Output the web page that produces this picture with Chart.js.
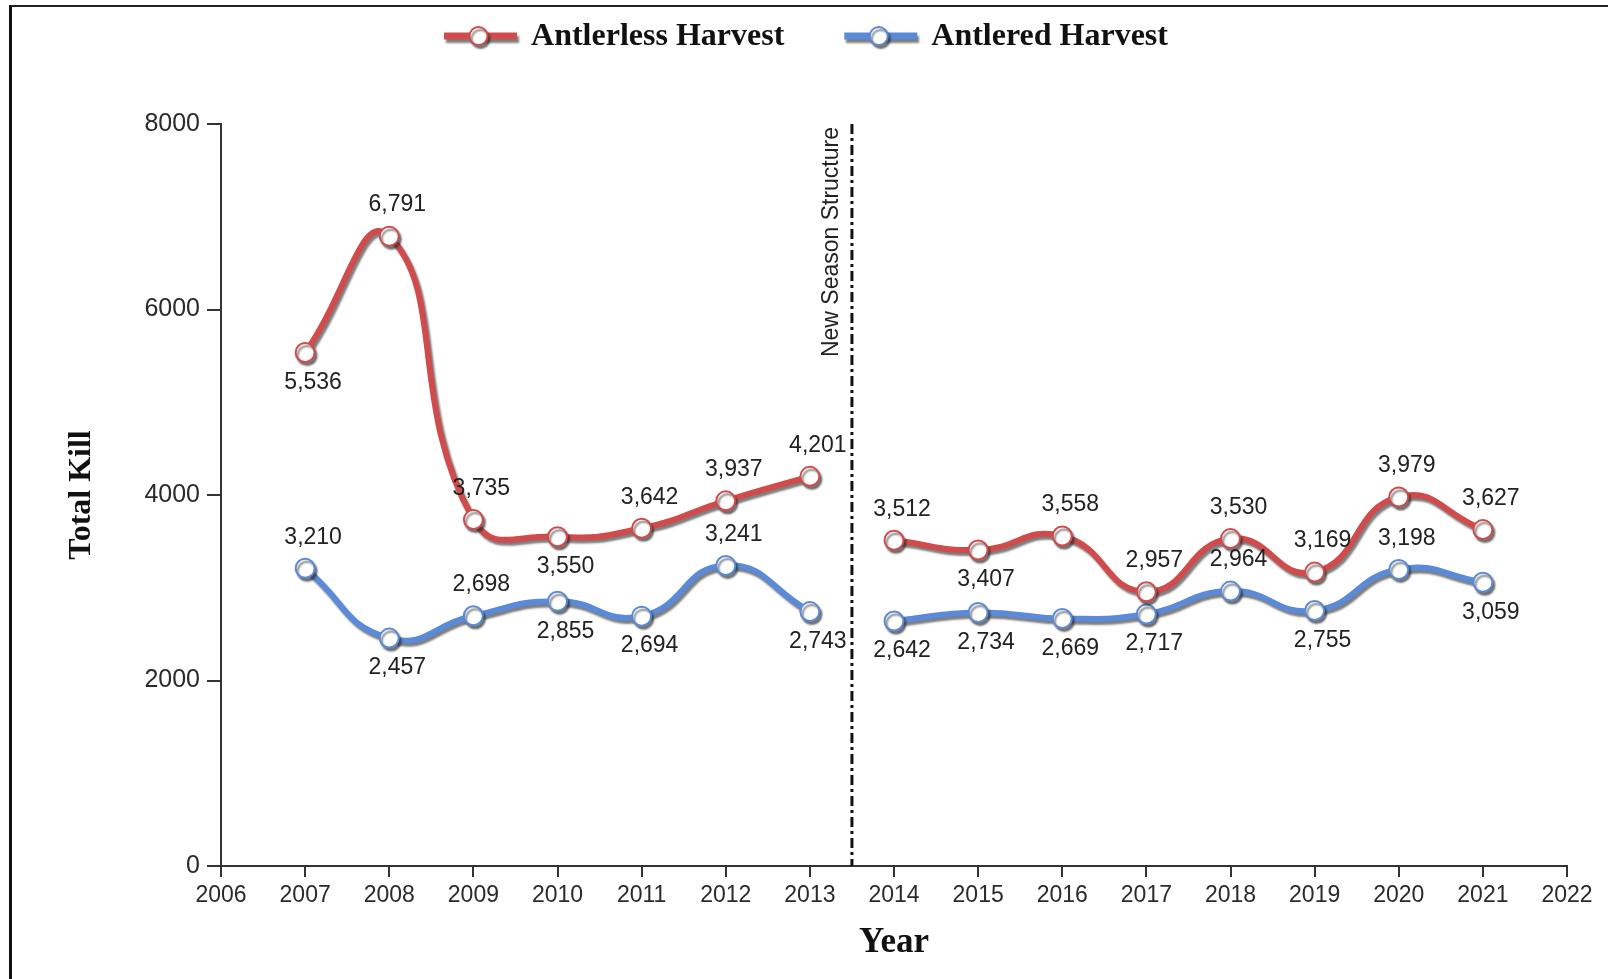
<!DOCTYPE html>
<html>
<head>
<meta charset="utf-8">
<title>Antlerless and Antlered Harvest</title>
<script src="https://cdn.jsdelivr.net/npm/chart.js@4.4.1/dist/chart.umd.min.js"></script>
<style>
  html, body { margin: 0; padding: 0; background: #fff; }
  #wrap { position: relative; width: 1608px; height: 979px; }
  #frame { position: absolute; left: 9px; top: 5px; right: 0; bottom: 0;
           border-left: 3px solid #111; border-top: 2px solid #222; pointer-events: none; }
  canvas { display: block; }
</style>
</head>
<body>
<div id="wrap">
  <canvas id="chart" width="1608" height="979"></canvas>
  <div id="frame"></div>
</div>
<script>
// Data
const years = [2007, 2008, 2009, 2010, 2011, 2012, 2013, 2014, 2015, 2016, 2017, 2018, 2019, 2020, 2021];
const antlerless = [5536, 6791, 3735, 3550, 3642, 3937, 4201, 3512, 3407, 3558, 2957, 3530, 3169, 3979, 3627];
const antlered = [3210, 2457, 2698, 2855, 2694, 3241, 2743, 2642, 2734, 2669, 2717, 2964, 2755, 3198, 3059];
const seasonBreak = 2013.5; // "New Season Structure"
const yTicks = [0, 2000, 4000, 6000, 8000];
const xMin = 2006, xMax = 2022;

// where each value label sits (a = above, b = below)
const antlerlessLabelSide = ['b','a','a','b','a','a','a','a','b','a','a','a','a','a','a'];
const antleredLabelSide   = ['a','b','a','b','b','a','b','b','b','b','b','a','b','a','b'];

const RED = '#d04c4c';
const BLUE = '#5a8ad8';
const SANS = "'Liberation Sans', Arial, sans-serif";
const SERIF = "'Liberation Serif', 'Times New Roman', serif";

// build points, with a break at the season change
function toPoints(values) {
  const pts = [];
  years.forEach((yr, i) => {
    if (yr > seasonBreak && pts.length && pts[pts.length - 1].x < seasonBreak) {
      pts.push({ x: seasonBreak, y: null });
    }
    pts.push({ x: yr, y: values[i] });
  });
  return pts;
}

// shadow under the lines
const lineShadow = {
  id: 'lineShadow',
  beforeDatasetDraw(chart) {
    const ctx = chart.ctx;
    ctx.save();
    ctx.shadowColor = 'rgba(40,40,40,0.6)';
    ctx.shadowBlur = 2;
    ctx.shadowOffsetX = 2;
    ctx.shadowOffsetY = 3;
  },
  afterDatasetDraw(chart) {
    chart.ctx.restore();
  }
};

// dashed vertical line + label
const seasonLine = {
  id: 'seasonLine',
  beforeDatasetsDraw(chart) {
    const { ctx, chartArea } = chart;
    const x = chart.scales.x.getPixelForValue(seasonBreak);
    ctx.save();
    ctx.strokeStyle = '#111';
    ctx.lineWidth = 3;
    ctx.setLineDash([10, 4, 3, 4]);
    ctx.beginPath();
    ctx.moveTo(x, chartArea.top);
    ctx.lineTo(x, chartArea.bottom);
    ctx.stroke();
    ctx.setLineDash([]);
    ctx.translate(x - 20, chartArea.top + 3);
    ctx.rotate(-Math.PI / 2);
    ctx.fillStyle = '#222';
    ctx.font = "23px 'Liberation Sans', Arial, sans-serif";
    ctx.textAlign = 'right';
    ctx.textBaseline = 'middle';
    ctx.fillText('New Season Structure', 0, 0);
    ctx.restore();
  }
};

// value labels next to each point
const valueLabels = {
  id: 'valueLabels',
  afterDatasetsDraw(chart) {
    const ctx = chart.ctx;
    const sides = [antlerlessLabelSide, antleredLabelSide];
    ctx.save();
    ctx.font = '23px ' + SANS;
    ctx.fillStyle = '#222';
    ctx.textAlign = 'center';
    ctx.textBaseline = 'middle';
    chart.data.datasets.forEach((ds, di) => {
      const meta = chart.getDatasetMeta(di);
      let k = 0;
      ds.data.forEach((p, i) => {
        if (p.y === null) return;
        const el = meta.data[i];
        const dy = sides[di][k] === 'a' ? -31 : 30;
        ctx.fillText(p.y.toLocaleString('en-US'), el.x + 8, el.y + dy);
        k++;
      });
    });
    ctx.restore();
  }
};

// legend with line + circle icons
const legendIcons = {
  id: 'legendIcons',
  afterDraw(chart) {
    const ctx = chart.ctx;
    const items = chart.data.datasets.map(ds => ({ text: ds.label, color: ds.borderColor }));
    const iconW = 73, gap = 14, between = 60, y = 36;
    ctx.save();
    ctx.font = 'bold 32px ' + SERIF;
    const widths = items.map(it => ctx.measureText(it.text).width);
    let total = 0;
    widths.forEach((w, i) => { total += iconW + gap + w + (i ? between : 0); });
    let x = chart.width / 2 + 2 - total / 2;
    items.forEach((it, i) => {
      ctx.save();
      ctx.shadowColor = 'rgba(40,40,40,0.6)';
      ctx.shadowBlur = 2;
      ctx.shadowOffsetX = 2;
      ctx.shadowOffsetY = 3;
      ctx.strokeStyle = it.color;
      ctx.lineWidth = 7;
      ctx.beginPath();
      ctx.moveTo(x, y);
      ctx.lineTo(x + iconW, y);
      ctx.stroke();
      ctx.beginPath();
      ctx.arc(x + iconW / 2 - 2, y, 9, 0, Math.PI * 2);
      ctx.fillStyle = '#fff';
      ctx.fill();
      ctx.lineWidth = 2;
      ctx.stroke();
      ctx.restore();
      ctx.fillStyle = '#111';
      ctx.textAlign = 'left';
      ctx.textBaseline = 'middle';
      ctx.fillText(it.text, x + iconW + gap, y + 1);
      x += iconW + gap + widths[i] + between;
    });
    ctx.restore();
  }
};

function lineDataset(label, values, color) {
  return {
    label: label,
    data: toPoints(values),
    borderColor: color,
    backgroundColor: color,
    borderWidth: 6,
    tension: 0.5,
    spanGaps: false,
    pointRadius: 9.5,
    pointHoverRadius: 9.5,
    pointBorderWidth: 2,
    pointBackgroundColor: '#fff',
    pointBorderColor: color
  };
}

const ctx = document.getElementById('chart').getContext('2d');
new Chart(ctx, {
  type: 'line',
  data: {
    datasets: [
      lineDataset('Antlerless Harvest', antlerless, RED),
      lineDataset('Antlered Harvest', antlered, BLUE)
    ]
  },
  options: {
    responsive: false,
    animation: false,
    layout: { padding: { left: 12, right: 41, top: 124, bottom: 0 } },
    plugins: {
      legend: { display: false },
      tooltip: { enabled: false }
    },
    scales: {
      x: {
        type: 'linear',
        min: xMin,
        max: xMax,
        afterFit(scale) { scale.height = 113; },
        afterBuildTicks(scale) {
          scale.ticks = [];
          for (let v = xMin; v <= xMax; v++) scale.ticks.push({ value: v });
        },
        ticks: {
          callback: v => String(v),
          color: '#2a2a2a',
          font: { family: SANS, size: 23 },
          padding: 5,
          maxRotation: 0,
          autoSkip: false
        },
        grid: { drawOnChartArea: false, drawTicks: true, tickLength: 11, color: '#333', lineWidth: 2 },
        border: { display: true, color: '#333', width: 2 },
        title: {
          display: true,
          text: 'Year',
          color: '#111',
          font: { family: SERIF, size: 35, weight: 'bold' },
          padding: { top: 0, bottom: 15 }
        }
      },
      y: {
        min: 0,
        max: 8000,
        afterFit(scale) { scale.width = 209; },
        afterBuildTicks(scale) { scale.ticks = yTicks.map(v => ({ value: v })); },
        ticks: {
          callback: v => String(v),
          color: '#2a2a2a',
          font: { family: SANS, size: 25 },
          padding: 7
        },
        grid: { drawOnChartArea: false, drawTicks: true, tickLength: 14, color: '#333', lineWidth: 2 },
        border: { display: true, color: '#333', width: 2 },
        title: {
          display: true,
          text: 'Total Kill',
          color: '#111',
          font: { family: SERIF, size: 32, weight: 'bold' },
          padding: { top: 51, bottom: 0 }
        }
      }
    }
  },
  plugins: [lineShadow, seasonLine, valueLabels, legendIcons]
});
</script>
</body>
</html>
